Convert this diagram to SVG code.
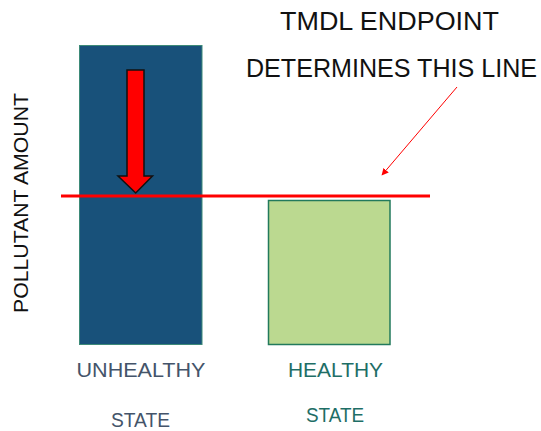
<svg xmlns="http://www.w3.org/2000/svg" width="541" height="431" viewBox="0 0 541 431">
  <defs>
    <style>
      .lbl { font-family: "Liberation Sans", Arial, sans-serif; }
      .title { font-size: 25px; fill: #111111; }
      .axis { font-size: 20px; fill: #111111; }
      .state { font-size: 20px; }
    </style>
    <marker id="ptr" viewBox="0 0 10 10" refX="9" refY="5" markerWidth="7" markerHeight="7" orient="auto-start-reverse" markerUnits="userSpaceOnUse">
      <path d="M0,0 L10,5 L0,10 z" fill="#ff0000"/>
    </marker>
  </defs>

  <rect width="541" height="431" fill="#ffffff"/>

  <!-- unhealthy bar with downward arrow -->
  <g id="bar-unhealthy">
    <rect x="79.5" y="45.5" width="122.5" height="299" fill="#18517a" stroke="#3d8a78" stroke-width="1"/>
    <path d="M127,70 L144,70 L144,176 L152.5,176 L135.7,193 L118,176 L127,176 Z" fill="#ff0000" stroke="#111111" stroke-width="1.5" stroke-linejoin="miter"/>
  </g>

  <!-- healthy bar -->
  <g id="bar-healthy">
    <rect x="268.5" y="200.5" width="121.5" height="144" fill="#bbd990" stroke="#227a5c" stroke-width="1.5"/>
  </g>

  <!-- threshold line and annotation pointer -->
  <g id="connectors">
    <line x1="61" y1="196" x2="430" y2="196" stroke="#ff0000" stroke-width="3"/>
    <line x1="457" y1="87" x2="382" y2="175" stroke="#ff0000" stroke-width="1" marker-end="url(#ptr)"/>
  </g>

  <g id="annotation">
    <text class="lbl title" x="389.5" y="30" text-anchor="middle" textLength="219" lengthAdjust="spacingAndGlyphs">TMDL ENDPOINT</text>
    <text class="lbl title" x="391.5" y="77" text-anchor="middle" textLength="291" lengthAdjust="spacingAndGlyphs">DETERMINES THIS LINE</text>
  </g>

  <g id="axis-label">
    <text class="lbl axis" transform="translate(28,203) rotate(-90)" text-anchor="middle" textLength="220" lengthAdjust="spacingAndGlyphs">POLLUTANT AMOUNT</text>
  </g>

  <g id="label-unhealthy">
    <text class="lbl state" x="141" y="377" text-anchor="middle" fill="#44546a" textLength="129" lengthAdjust="spacingAndGlyphs">UNHEALTHY</text>
    <text class="lbl state" x="140.5" y="427" text-anchor="middle" fill="#44546a" textLength="59" lengthAdjust="spacingAndGlyphs">STATE</text>
  </g>

  <g id="label-healthy">
    <text class="lbl state" x="335.5" y="377" text-anchor="middle" fill="#1e6e66" textLength="95" lengthAdjust="spacingAndGlyphs">HEALTHY</text>
    <text class="lbl state" x="335" y="422" text-anchor="middle" fill="#1e6e66" textLength="58" lengthAdjust="spacingAndGlyphs">STATE</text>
  </g>
</svg>
